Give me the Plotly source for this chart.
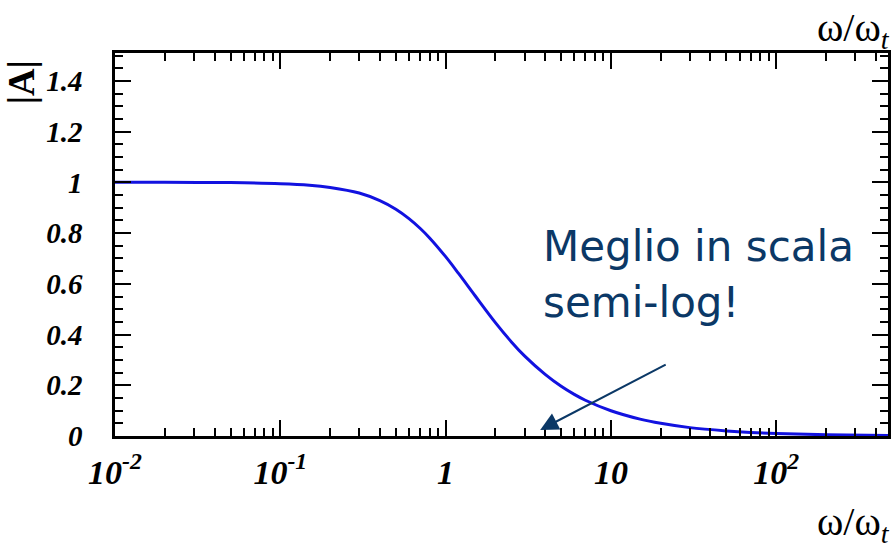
import plotly.graph_objects as go

# Data
omega_ratio = [0.01, 0.02, 0.05, 0.1, 0.15, 0.2, 0.3, 0.4, 0.5, 0.6, 0.7, 0.8, 1.0,
               1.2, 1.5, 2.0, 2.5, 3.0, 4.0, 5.0, 6.0, 7.0, 10.0, 15.0, 20.0, 30.0,
               50.0, 70.0, 100.0, 200.0, 475.0]
gain = [1.0, 1.0, 0.999, 0.995, 0.989, 0.98, 0.958, 0.928, 0.894, 0.857, 0.819, 0.781, 0.707,
        0.64, 0.555, 0.447, 0.371, 0.316, 0.243, 0.196, 0.164, 0.141, 0.0995, 0.0665, 0.05, 0.033,
        0.02, 0.014, 0.01, 0.005, 0.002]

x_tickvals = [0.01, 0.1, 1, 10, 100]
x_ticktext = ["10<sup>-2</sup>", "10<sup>-1</sup>", "1", "10", "10<sup>2</sup>"]
x_minor = [m * d for d in [0.01, 0.1, 1, 10, 100] for m in range(2, 10)]
y_tickvals = [0, 0.2, 0.4, 0.6, 0.8, 1.0, 1.2, 1.4]
y_ticktext = ["0", "0.2", "0.4", "0.6", "0.8", "1", "1.2", "1.4"]

axis_title = "ω/ω<sub><i>t</i></sub>"
y_title = "<b>|A|</b>"
note_line1 = "Meglio in scala"
note_line2 = "semi-log!"

W, H = 895, 549
L, R, T, B = 115, 4, 53, 113
PW = W - L - R
PH = H - T - B

NAVY = "#0b3866"

fig = go.Figure()
fig.add_trace(go.Scatter(x=omega_ratio, y=gain, mode="lines",
                         line=dict(color="#1212e0", width=3, shape="spline"),
                         showlegend=False, hoverinfo="skip"))

xtickfont = dict(family="Liberation Serif", size=34, color="black", weight="bold", style="italic")
ytickfont = dict(family="Liberation Serif", size=29, color="black", weight="bold", style="italic")

fig.update_xaxes(type="log", range=[-2, 2.676], tickvals=x_tickvals, ticktext=x_ticktext,
                 ticks="inside", ticklen=16, tickwidth=2, tickcolor="black",
                 showline=True, linewidth=2.5, linecolor="black", mirror="allticks",
                 showgrid=False, zeroline=False, tickfont=xtickfont, ticklabelstandoff=4,
                 minor=dict(tickvals=x_minor, ticks="inside", ticklen=8, tickwidth=2,
                            tickcolor="black", showgrid=False))
fig.update_yaxes(range=[0, 1.51], tickvals=y_tickvals, ticktext=y_ticktext,
                 ticks="inside", ticklen=16, tickwidth=2, tickcolor="black",
                 showline=True, linewidth=2.5, linecolor="black", mirror="allticks",
                 showgrid=False, zeroline=False, tickfont=ytickfont, ticklabelstandoff=24,
                 minor=dict(dtick=0.05, ticks="inside", ticklen=8, tickwidth=2,
                            tickcolor="black", showgrid=False))

def px_x(px):
    return (px - L) / PW

def px_y(py):
    return (H - B - py) / PH

# axis titles (top-right and bottom-right)
fig.add_annotation(text=axis_title, xref="paper", yref="paper", x=px_x(895), y=px_y(30),
                   xanchor="right", yanchor="middle", showarrow=False,
                   font=dict(family="Liberation Serif", size=40, color="black"))
fig.add_annotation(text=axis_title, xref="paper", yref="paper", x=px_x(895), y=px_y(524),
                   xanchor="right", yanchor="middle", showarrow=False,
                   font=dict(family="Liberation Serif", size=40, color="black"))
fig.add_annotation(text=y_title, xref="paper", yref="paper", x=px_x(21), y=px_y(82),
                   xanchor="center", yanchor="middle", textangle=-90, showarrow=False,
                   font=dict(family="Liberation Serif", size=38, color="black"))

# note text, one annotation per line
fig.add_annotation(text=note_line1, xref="paper", yref="paper", x=px_x(543), y=px_y(246),
                   xanchor="left", yanchor="middle", showarrow=False,
                   font=dict(family="DejaVu Sans", size=42, color=NAVY))
fig.add_annotation(text=note_line2, xref="paper", yref="paper", x=px_x(543), y=px_y(302),
                   xanchor="left", yanchor="middle", showarrow=False,
                   font=dict(family="DejaVu Sans", size=42, color=NAVY))
# arrow
fig.add_annotation(text="", xref="x", yref="y", x=0.572, y=0.024,
                   ax=127, ay=-66, showarrow=True, arrowhead=2, arrowsize=1.8,
                   arrowwidth=2, arrowcolor=NAVY)

fig.update_layout(width=W, height=H, margin=dict(l=L, r=R, t=T, b=B),
                  paper_bgcolor="white", plot_bgcolor="white")

fig.write_html("out.html")
